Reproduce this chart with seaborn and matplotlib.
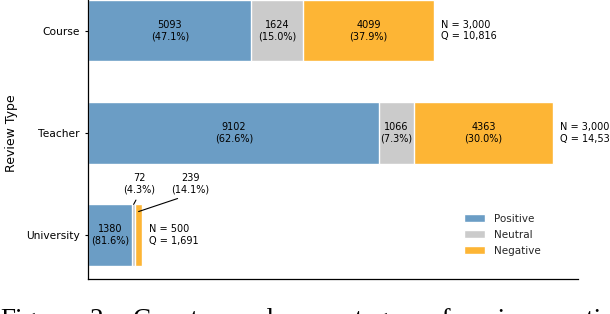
import matplotlib
matplotlib.use("Agg")
import matplotlib.pyplot as plt
from matplotlib.patches import Patch
import numpy as np
import pandas as pd
import seaborn as sns

# ---- data ----
review_types = ["Course", "Teacher", "University"]
positive = [5093, 9102, 1380]
neutral = [1624, 1066, 72]
negative = [4099, 4363, 239]
n_reviews = [3000, 3000, 500]
sentiments = ["Positive", "Neutral", "Negative"]
colors = ["#6B9DC5", "#CBCBCB", "#FDB535"]
caption_words = ["Figure", "2:", "Counts", "and", "percentages", "of",
                 "review", "sentiment"]
caption_x_px = [0, 90, 133, 234, 284, 428, 463, 551]

sns.set_theme(style="ticks")
plt.rcParams["font.family"] = ["DejaVu Sans"]

pos = np.array(positive)
neu = np.array(neutral)
neg = np.array(negative)
total = pos + neu + neg
df = pd.DataFrame({
    "type": review_types,
    "Positive": pos,
    "PosNeu": pos + neu,
    "Total": total,
})

W, H = 610, 314
fig = plt.figure(figsize=(W / 100, H / 100), dpi=100)
ax = fig.add_axes([0.1448, 0.1105, 0.8023, 0.9545])

# stacked bars by layering cumulative totals
sns.barplot(data=df, y="type", x="Total", color=colors[2], width=0.6,
            saturation=1, ax=ax, orient="h")
sns.barplot(data=df, y="type", x="PosNeu", color=colors[1], width=0.6,
            saturation=1, ax=ax, orient="h")
sns.barplot(data=df, y="type", x="Positive", color=colors[0], width=0.6,
            saturation=1, ax=ax, orient="h")

ax.set_xlim(0, 15300)
ax.set_ylim(2.433, -0.5)
sns.despine(ax=ax)
for side in ["left", "bottom"]:
    ax.spines[side].set_color("black")
    ax.spines[side].set_linewidth(0.9)
ax.set_xticks([])
ax.set_xlabel("")
ax.set_ylabel("Review Type", fontsize=9, color="black")
ax.yaxis.set_label_coords(-0.143, 0.489)
ax.tick_params(axis="y", labelsize=7.7, length=2.5, width=0.8, pad=3.5,
               colors="black")

fs = 7
# labels inside bars
for i in range(len(review_types)):
    segs = [pos[i], neu[i], neg[i]]
    starts = [0, pos[i], pos[i] + neu[i]]
    for s, v in zip(starts, segs):
        if v > 500:
            pct = 100 * v / total[i]
            ax.text(s + v / 2, i, f"{v}\n({pct:.1f}%)", ha="center",
                    va="center", fontsize=fs, color="black")
    ax.annotate(f"N = {n_reviews[i]:,}\nQ = {total[i]:,}",
                xy=(total[i], i), xytext=(4.7, 0), textcoords="offset points",
                ha="left", va="center", fontsize=fs, color="black")

# small segments for University, labelled above with leader lines
i = 2
ax.annotate(f"{neu[i]}\n({100*neu[i]/total[i]:.1f}%)",
            xy=(pos[i] + neu[i] / 2, 1.70), xytext=(1585, 1.496),
            ha="center", va="center", fontsize=fs, color="black",
            arrowprops=dict(arrowstyle="-", lw=0.8, color="black",
                            relpos=(0.5, 0), shrinkB=0))
ax.annotate(f"{neg[i]}\n({100*neg[i]/total[i]:.1f}%)",
            xy=(pos[i] + neu[i] + neg[i] / 2, 1.77), xytext=(3179, 1.496),
            ha="center", va="center", fontsize=fs, color="black",
            arrowprops=dict(arrowstyle="-", lw=0.8, color="black",
                            relpos=(0.5, 0), shrinkB=0))

handles = [Patch(facecolor=c, label=s) for s, c in zip(sentiments, colors)]
fig.legend(handles=handles, loc="upper left",
           bbox_to_anchor=(0.7607, 0.3200), frameon=False, fontsize=7.5,
           borderpad=0, borderaxespad=0, handletextpad=0.9, labelspacing=0.58)

# caption of the paper figure (only its top is visible)
for word, xp in zip(caption_words, caption_x_px):
    fig.text(xp / W, -0.041, word, family=["Liberation Serif", "DejaVu Serif"],
             fontsize=19.5, ha="left", va="baseline", color="black")

fig.savefig("out.png", dpi=100)
